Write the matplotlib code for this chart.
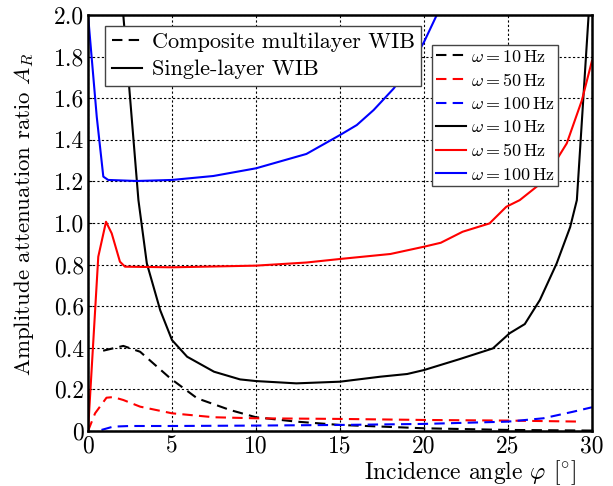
import matplotlib
matplotlib.use("Agg")
import matplotlib.pyplot as plt
from matplotlib.ticker import FuncFormatter
from matplotlib.lines import Line2D

plt.rcParams['font.family'] = 'serif'
plt.rcParams['font.serif'] = ['cmr10', 'DejaVu Serif']
plt.rcParams['mathtext.fontset'] = 'cm'
plt.rcParams['axes.unicode_minus'] = False
plt.rcParams['axes.formatter.use_mathtext'] = True

# Composite multilayer WIB (dashed)
c10_x = [0.9, 2.1, 3.1, 4.9, 6.5, 8.45, 10.0, 12.4, 15.0, 20.0, 25.0, 30.0]
c10_y = [0.386, 0.409, 0.381, 0.253, 0.157, 0.101, 0.066, 0.045, 0.029, 0.013, 0.005, 0.002]
c50_x = [0.0, 0.42, 1.1, 1.5, 2.1, 3.1, 5.0, 7.5, 10.0, 15.0, 20.0, 25.0, 29.4]
c50_y = [0.0, 0.085, 0.16, 0.163, 0.149, 0.117, 0.085, 0.066, 0.061, 0.058, 0.053, 0.05, 0.045]
c100_x = [0.8, 1.5, 2.5, 5.0, 10.0, 15.0, 20.0, 25.0, 27.1, 28.9, 30.0]
c100_y = [0.005, 0.021, 0.024, 0.024, 0.026, 0.029, 0.034, 0.045, 0.061, 0.093, 0.114]

# Single-layer WIB (solid)
s10_x = [1.9, 2.1, 3.0, 3.5, 4.3, 5.0, 5.9, 7.5, 9.05, 10.0, 12.4, 15.0, 17.4, 19.0, 20.0,
         22.1, 24.1, 25.1, 26.0, 26.9, 27.9, 28.7, 29.1, 29.8, 30.0]
s10_y = [2.4, 2.0, 1.11, 0.806, 0.58, 0.437, 0.357, 0.285, 0.248, 0.24, 0.229, 0.237, 0.261, 0.274,
         0.293, 0.345, 0.397, 0.47, 0.514, 0.63, 0.806, 0.98, 1.11, 2.0, 2.3]
s50_x = [0.0, 0.61, 1.07, 1.41, 1.9, 2.2, 5.0, 10.0, 13.0, 15.0, 18.0, 20.0, 21.0, 22.3, 23.9,
         24.9, 25.7, 27.1, 28.5, 29.4, 30.0]
s50_y = [0.0, 0.838, 1.006, 0.95, 0.814, 0.79, 0.787, 0.795, 0.81, 0.827, 0.851, 0.886, 0.905,
         0.958, 0.998, 1.078, 1.11, 1.2, 1.383, 1.59, 1.78]
s100_x = [0.0, 0.52, 0.91, 1.2, 2.9, 5.0, 7.46, 10.0, 13.0, 15.0, 16.0, 17.0, 18.2, 19.4, 20.0,
          20.76, 21.5]
s100_y = [2.0, 1.51, 1.223, 1.207, 1.202, 1.207, 1.226, 1.263, 1.332, 1.423, 1.471, 1.543, 1.647,
          1.784, 1.87, 2.0, 2.2]

freq_labels = [r'$\omega{=}10\,\mathrm{Hz}$', r'$\omega{=}50\,\mathrm{Hz}$',
               r'$\omega{=}100\,\mathrm{Hz}$']
colors = ['black', 'red', 'blue']
style_labels = ['Composite multilayer WIB', 'Single-layer WIB']

fig = plt.figure(figsize=(6.13, 4.86), dpi=100)
ax = fig.add_axes([0.1436, 0.1132, 0.8221, 0.8559])

lw = 1.5
dash = (0, (5, 3))
h = []
for xs, ys, c, lab in zip([c10_x, c50_x, c100_x], [c10_y, c50_y, c100_y], colors, freq_labels):
    h += ax.plot(xs, ys, color=c, lw=lw, linestyle=dash, label=lab)
for xs, ys, c, lab in zip([s10_x, s50_x, s100_x], [s10_y, s50_y, s100_y], colors, freq_labels):
    h += ax.plot(xs, ys, color=c, lw=lw, linestyle='-', label=lab)

ax.set_xlim(0, 30)
ax.set_ylim(0, 2.0)
ax.set_xticks([0, 5, 10, 15, 20, 25, 30])
ax.set_yticks([0, 0.2, 0.4, 0.6, 0.8, 1.0, 1.2, 1.4, 1.6, 1.8, 2.0])
ax.yaxis.set_major_formatter(FuncFormatter(lambda v, p: '0' if abs(v) < 1e-9 else f'{v:.1f}'))
ax.xaxis.set_major_formatter(FuncFormatter(lambda v, p: f'{int(round(v))}'))
ax.tick_params(direction='in', length=3, labelsize=17, pad=3)
ax.grid(True, color='black', linestyle=(0, (2, 2)), linewidth=0.8)
for s in ax.spines.values():
    s.set_linewidth(1.8)

ax.set_xlabel(r'Incidence angle $\varphi$ [$^{\circ}$]', fontsize=17)
ax.xaxis.set_label_coords(0.758, -0.065)
ax.set_ylabel(r'Amplitude attenuation ratio $A_R$', fontsize=16.5)
ax.yaxis.set_label_coords(-0.103, 0.52)

leg2 = ax.legend(handles=h, loc='upper left', bbox_to_anchor=(0.6825, 0.928), borderaxespad=0,
                 fontsize=13, fancybox=False, framealpha=1, edgecolor='#444444',
                 handlelength=1.7, handletextpad=0.25, labelspacing=0.4, borderpad=0.2)
ax.add_artist(leg2)
style_handles = [Line2D([], [], color='black', lw=lw, linestyle=dash),
                 Line2D([], [], color='black', lw=lw, linestyle='-')]
leg1 = ax.legend(style_handles, style_labels, loc='upper left',
                 bbox_to_anchor=(0.034, 0.974), borderaxespad=0, fontsize=16, fancybox=False,
                 framealpha=1, edgecolor='#444444', handlelength=1.35, handletextpad=0.45,
                 labelspacing=0.35, borderpad=0.3)

fig.savefig('out.png', dpi=100)
